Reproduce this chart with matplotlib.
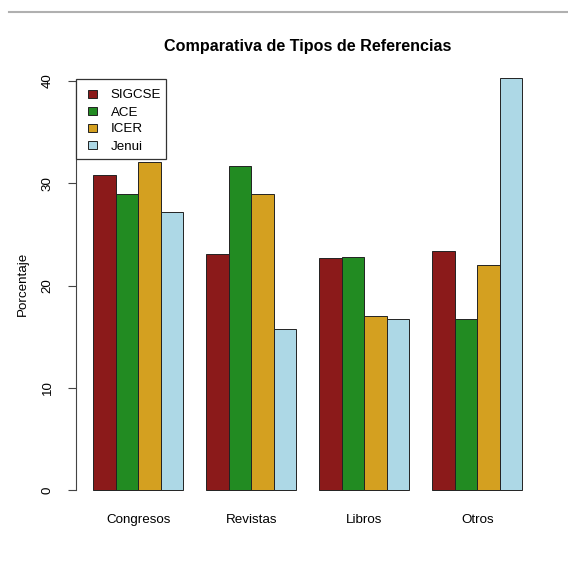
import matplotlib
matplotlib.use("Agg")
import matplotlib.pyplot as plt
from matplotlib.patches import Rectangle
from matplotlib.lines import Line2D

# Data
categories = ['Congresos', 'Revistas', 'Libros', 'Otros']
series_names = ['SIGCSE', 'ACE', 'ICER', 'Jenui']
sigcse = [30.8, 23.1, 22.7, 23.4]
ace = [28.95, 31.7, 22.75, 16.7]
icer = [32.1, 28.95, 17.0, 22.0]
jenui = [27.2, 15.75, 16.75, 40.3]
colors = ['#8B1A1A', '#228B22', '#D4A020', '#ADD8E6']
yticks = [0, 10, 20, 30, 40]

plt.rcParams['font.family'] = ['Liberation Sans', 'DejaVu Sans']

W, H = 568, 569
fig = plt.figure(figsize=(W / 100, H / 100), dpi=100)


def fx(px):
    return px / W


def fy(py):
    return 1 - py / H


# R-style barplot geometry (beside=TRUE, space=c(0,1))
xlim = (0.24, 20.76)
ylim = (-1.6, 41.9)
left_px, right_px = 75.8, 539.6
top_px, bottom_px = 61.6, 506.4
ax = fig.add_axes([fx(left_px), fy(bottom_px),
                   (right_px - left_px) / W, (bottom_px - top_px) / H])
ax.set_xlim(*xlim)
ax.set_ylim(*ylim)

all_series = [sigcse, ace, icer, jenui]
n_ser = len(all_series)
for gi in range(len(categories)):
    start = 1 + gi * (n_ser + 1)
    for si, vals in enumerate(all_series):
        ax.bar(start + si, vals[gi], width=1.0, align='edge', color=colors[si],
               edgecolor='#222222', linewidth=0.7)
    ax.text(start + n_ser / 2, -2.95, categories[gi], ha='center', va='center',
            fontsize=9.6, clip_on=False)

for s in ax.spines.values():
    s.set_visible(False)
ax.set_xticks([])
ax.spines['left'].set_visible(True)
ax.spines['left'].set_bounds(0, 40)
ax.spines['left'].set_color('#444444')
ax.set_yticks(yticks)
ax.set_yticklabels([str(t) for t in yticks], rotation=90, va='center', fontsize=9.6)
ax.tick_params(axis='y', length=6, width=0.8, color='#444444', pad=10)
ax.set_ylabel('Porcentaje', fontsize=9.6, labelpad=9.5)

fig.text(fx((left_px + right_px) / 2), fy(46), 'Comparativa de Tipos de Referencias',
         fontsize=11.6, fontweight='bold', ha='center', va='center')

# legend drawn R-style (topleft of the bars' range)
fig.add_artist(Rectangle((fx(75.8), fy(158.5)), (166 - 75.8) / W, (158.5 - 78.5) / H,
                         facecolor='white', edgecolor='#333333', linewidth=0.9,
                         transform=fig.transFigure, zorder=5))
for i, (name, c) in enumerate(zip(series_names, colors)):
    yc = 94 + i * 17
    fig.add_artist(Rectangle((fx(87.5), fy(yc + 4.2)), 9.2 / W, 8.4 / H,
                             facecolor=c, edgecolor='#222222', linewidth=0.7,
                             transform=fig.transFigure, zorder=6))
    fig.text(fx(110.5), fy(yc + 4.5), name, fontsize=9.6, ha='left',
             va='baseline', zorder=7)

# thin grey separator at the top of the image
fig.add_artist(Line2D([fx(9), 1.0], [fy(12), fy(12)],
                      color='#b0b0b0', linewidth=1.5))

fig.savefig('out.png', dpi=100)
